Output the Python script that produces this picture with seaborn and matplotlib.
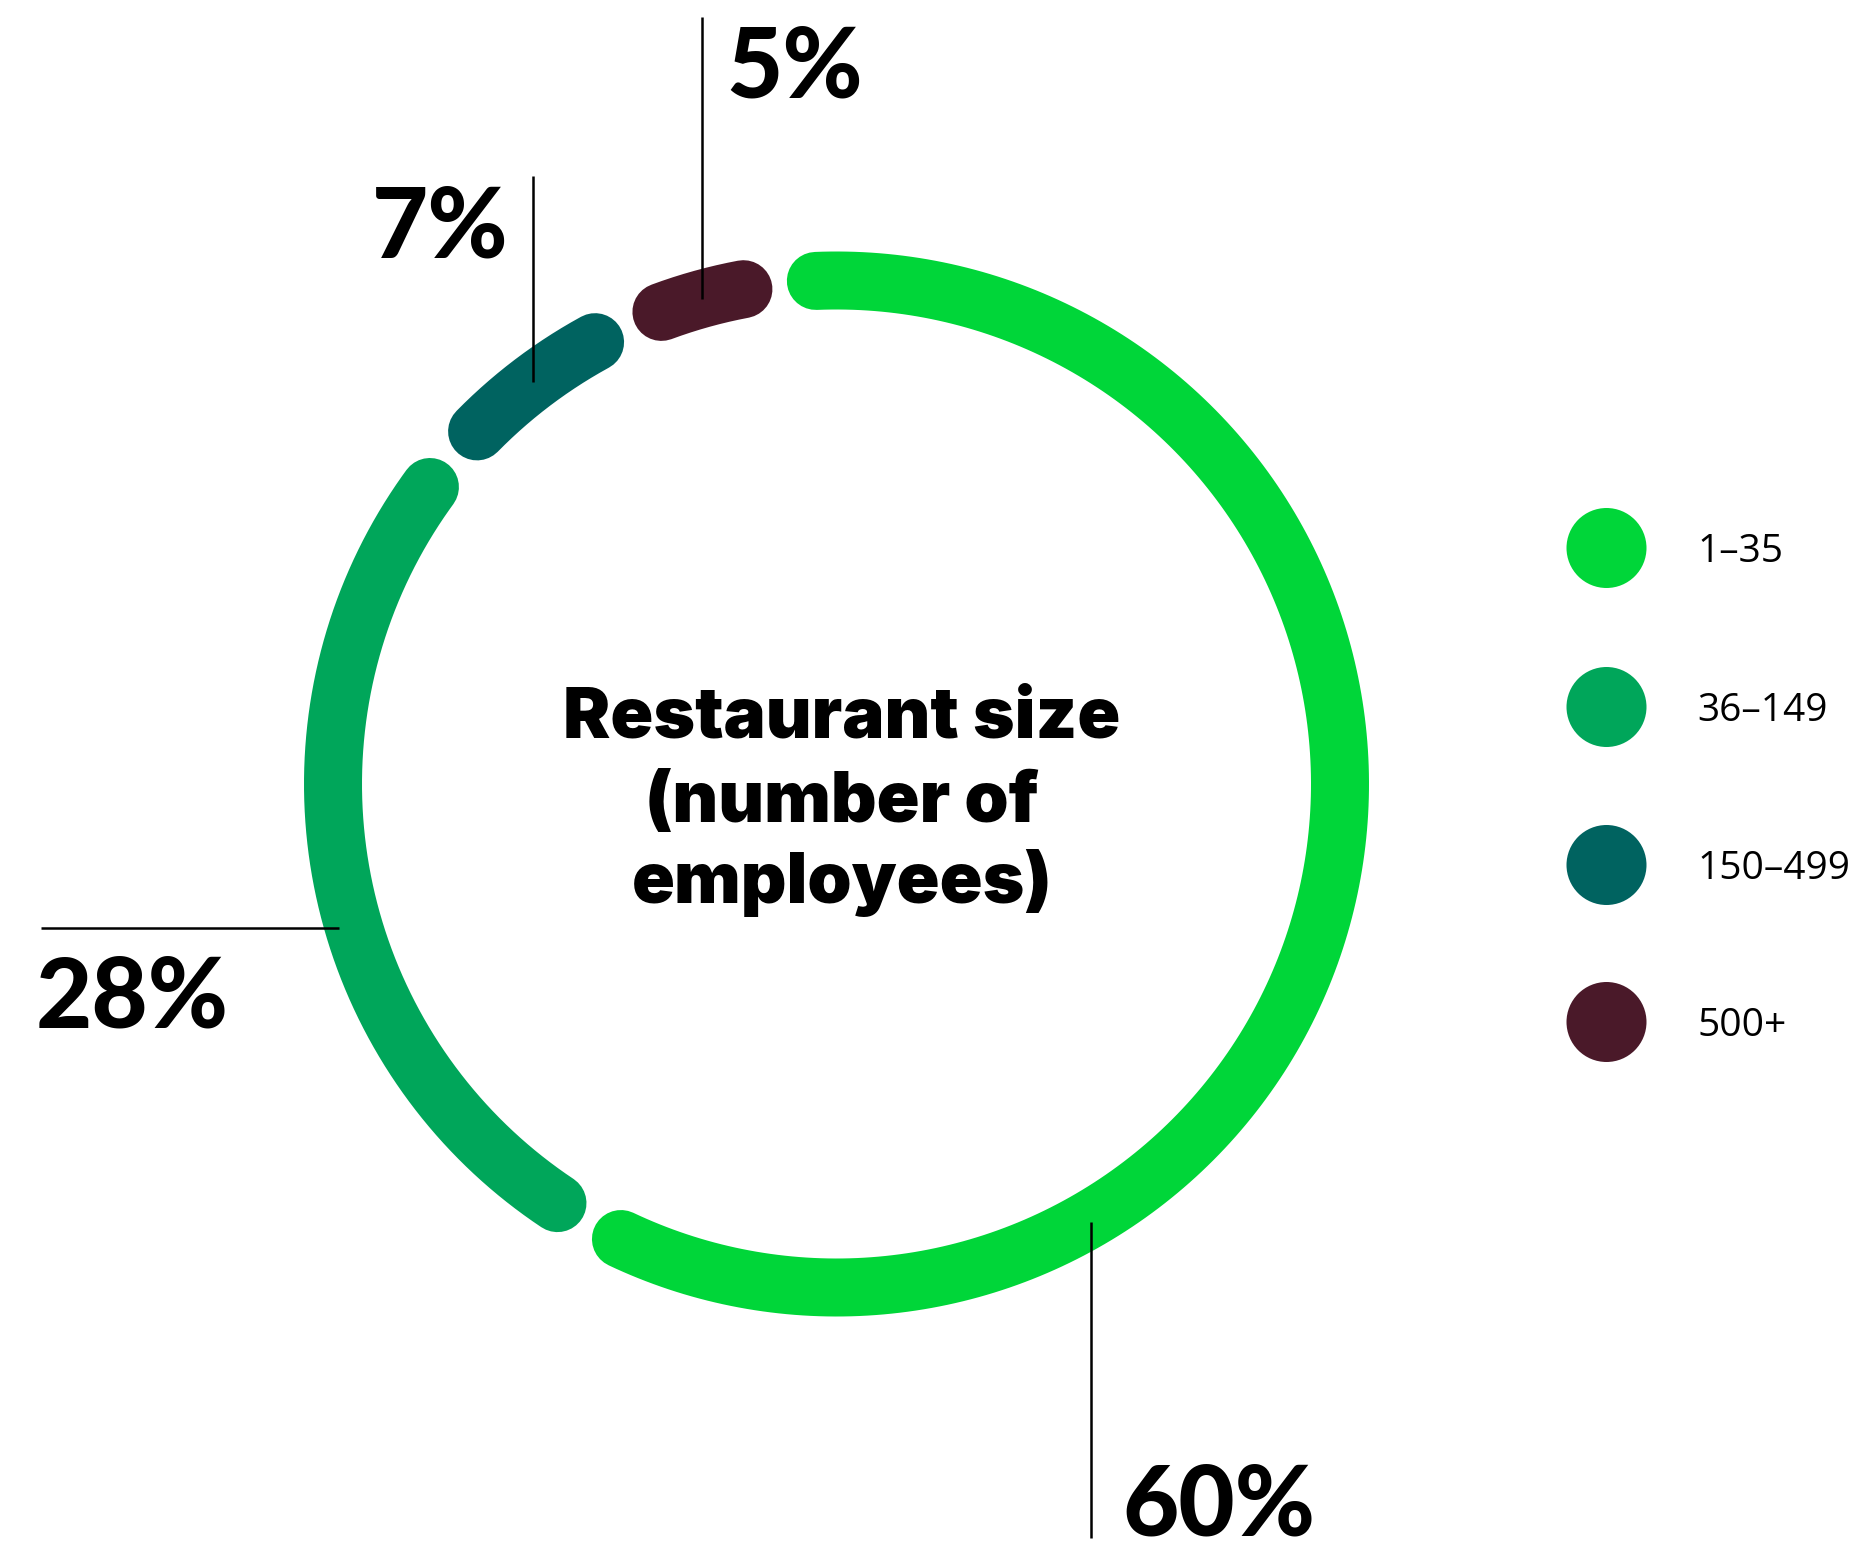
import numpy as np
import pandas as pd
import matplotlib
matplotlib.use("Agg")
import matplotlib.pyplot as plt
import seaborn as sns

# ---- data -------------------------------------------------------------
size_bands = ["1–35", "36–149", "150–499", "500+"]
shares = [60, 28, 7, 5]
share_labels = ["60%", "28%", "7%", "5%"]
band_colors = ["#00D639", "#00A65A", "#006360", "#4A1929"]
title_lines = ["Restaurant size", "(number of", "employees)"]

# ---- canvas (axes in pixel units, y pointing down) ---------------------
W, H = 1860, 1547
sns.set_theme(style="white")
plt.rcParams["font.family"] = ["Lato", "DejaVu Sans"]

fig = plt.figure(figsize=(W / 100, H / 100), dpi=100)
ax = fig.add_axes([0, 0, 1, 1])
ax.set_xlim(0, W)
ax.set_ylim(H, 0)
ax.set_aspect("equal")
ax.axis("off")

# ---- donut ring: one rounded arc per band, clockwise from the top -------
cx, cy, R = 836.5, 784.0, 503.5
ring_lw = 58 * 72 / 100          # ring thickness in points
start_deg = 96.5
gap_deg = 8.3                    # spacing between neighbouring cap centres

edges = start_deg - 360 * np.cumsum([0] + shares) / sum(shares)
rows = []
mid_angle = {}
for band, a0, a1 in zip(size_bands, edges[:-1], edges[1:]):
    mid_angle[band] = (a0 + a1) / 2
    for t in np.radians(np.linspace(a0 - gap_deg / 2, a1 + gap_deg / 2, 240)):
        rows.append((band, cx + R * np.cos(t), cy - R * np.sin(t)))
arcs = pd.DataFrame(rows, columns=["band", "x", "y"])

sns.lineplot(data=arcs, x="x", y="y", hue="band", hue_order=size_bands,
             palette=band_colors, sort=False, estimator=None,
             linewidth=ring_lw, solid_capstyle="round", legend=False, ax=ax)

# ---- centre title -------------------------------------------------------
for line, base in zip(title_lines, [737, 822, 903]):
    ax.text(842, base, line, ha="center", va="baseline", fontsize=51,
            fontweight="black", family=["Inter", "DejaVu Sans"], color="black")

# ---- percentage labels with leader lines --------------------------------
lead_kw = dict(color="black", linewidth=1.8, solid_capstyle="butt")
lab_kw = dict(fontsize=70, fontweight="black", color="black", va="baseline")

# 60 %: vertical line down from the ring at the lower right
x60 = 1091
y60 = cy + np.sqrt(R**2 - (x60 - cx) ** 2)
ax.plot([x60, x60], [y60 + 4, 1538], **lead_kw)
ax.text(1122, 1535, share_labels[0], ha="left", **lab_kw)

# 28 %: horizontal line out to the left
ax.plot([41, 339], [928, 928], **lead_kw)
ax.text(36, 1027, share_labels[1], ha="left", **lab_kw)

# 7 %: vertical line up from the middle of its arc
a7 = np.radians(mid_angle[size_bands[2]])
x7, y7 = cx + R * np.cos(a7), cy - R * np.sin(a7)
ax.plot([x7, x7], [176, y7], **lead_kw)
ax.text(x7 - 24, 257, share_labels[2], ha="right", **lab_kw)

# 5 %: vertical line up from the middle of its arc
a5 = np.radians(mid_angle[size_bands[3]])
x5, y5 = cx + R * np.cos(a5), cy - R * np.sin(a5)
ax.plot([x5, x5], [17, y5], **lead_kw)
ax.text(x5 + 24, 97, share_labels[3], ha="left", **lab_kw)

# ---- legend: coloured dots with band names ------------------------------
legend_y = [548, 707, 865, 1022]
legend_df = pd.DataFrame({"band": size_bands, "x": [1606.5] * 4, "y": legend_y})
dot_d = 80 * 72 / 100
sns.scatterplot(data=legend_df, x="x", y="y", hue="band", hue_order=size_bands,
                palette=band_colors, s=dot_d ** 2, linewidth=0, legend=False, ax=ax)
for band, y in zip(size_bands, legend_y):
    ax.text(1697, y + 14, band, ha="left", va="baseline", fontsize=28,
            family=["Open Sans", "DejaVu Sans"], color="black")

ax.set_xlabel("")
ax.set_ylabel("")
fig.savefig("out.png", dpi=100)
